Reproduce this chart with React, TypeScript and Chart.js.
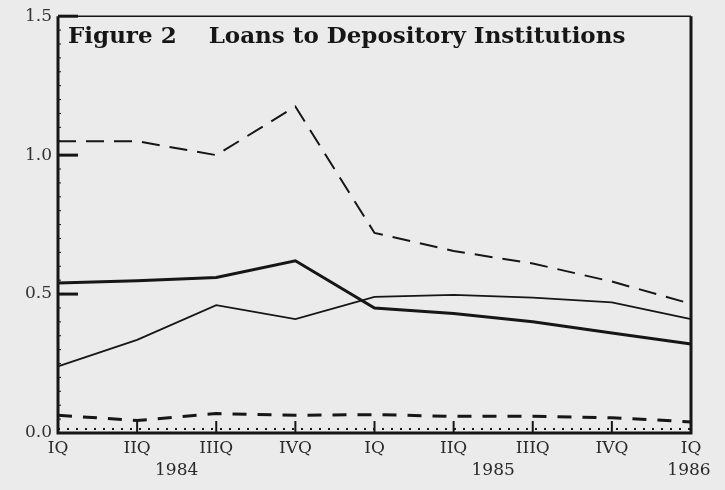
import React, { useEffect, useRef } from "react";
import { Chart, registerables } from "chart.js";

Chart.register(...registerables);

const quarters = ["IQ", "IIQ", "IIIQ", "IVQ", "IQ", "IIQ", "IIIQ", "IVQ", "IQ"];
const yearLabels = ["1984", "1985", "1986"];
const yearAt = [1.5, 5.5, 8];
const titleText = "Figure 2    Loans to Depository Institutions";

const seriesDashed = [1.05, 1.05, 1.0, 1.175, 0.72, 0.655, 0.61, 0.545, 0.465];
const seriesThick = [0.54, 0.548, 0.56, 0.62, 0.45, 0.43, 0.40, 0.36, 0.32];
const seriesThin = [0.24, 0.335, 0.46, 0.41, 0.49, 0.497, 0.487, 0.47, 0.41];
const seriesThickDashed = [0.064, 0.045, 0.07, 0.064, 0.066, 0.06, 0.06, 0.055, 0.04];
const seriesDotted = [0.014, 0.014, 0.014, 0.014, 0.014, 0.014, 0.014, 0.014, 0.014];

const INK = "#161616";
const SERIF = "'DejaVu Serif', 'Liberation Serif', serif";

const framePlugin = {
  id: "frame",
  afterDraw(chart: any) {
    const { ctx, chartArea: a, scales } = chart;
    const y = scales.y;
    const x = scales.x;
    ctx.save();
    ctx.strokeStyle = INK;
    ctx.lineCap = "butt";
    // frame
    ctx.lineWidth = 3;
    ctx.beginPath();
    ctx.moveTo(a.left, a.top);
    ctx.lineTo(a.left, a.bottom);
    ctx.lineTo(a.right, a.bottom);
    ctx.lineTo(a.right, a.top);
    ctx.stroke();
    ctx.lineWidth = 1.5;
    ctx.beginPath();
    ctx.moveTo(a.left, a.top);
    ctx.lineTo(a.right, a.top);
    ctx.stroke();
    // y ticks
    for (let i = 1; i < 30; i++) {
      const v = i * 0.05;
      const py = y.getPixelForValue(v);
      const major = i % 10 === 0;
      ctx.lineWidth = major ? 3 : 1;
      ctx.beginPath();
      ctx.moveTo(a.left, py);
      ctx.lineTo(a.left + (major ? 20 : 3), py);
      ctx.stroke();
    }
    ctx.lineWidth = 3;
    ctx.beginPath();
    ctx.moveTo(a.left, a.top);
    ctx.lineTo(a.left + 20, a.top);
    ctx.stroke();
    // x ticks
    ctx.lineWidth = 2;
    for (let i = 1; i < quarters.length - 1; i++) {
      const px = x.getPixelForValue(i);
      ctx.beginPath();
      ctx.moveTo(px, a.bottom);
      ctx.lineTo(px, a.bottom - 12);
      ctx.stroke();
    }
    // title
    ctx.fillStyle = INK;
    ctx.font = `bold 23px ${SERIF}`;
    ctx.textBaseline = "middle";
    ctx.textAlign = "left";
    ctx.fillText(titleText, a.left + 10, a.top + 21);
    // year labels
    ctx.font = `17px ${SERIF}`;
    ctx.fillStyle = "#2a2a2a";
    ctx.textAlign = "center";
    yearLabels.forEach((lab, i) => {
      const pos = yearAt[i];
      const lo = Math.floor(pos);
      const hi = Math.ceil(pos);
      const p0 = x.getPixelForValue(lo);
      const p1 = x.getPixelForValue(hi);
      let px = p0 + (p1 - p0) * (pos - lo);
      if (i === yearLabels.length - 1) px -= 2;
      ctx.fillText(lab, px, a.bottom + 38);
    });
    ctx.restore();
  },
};

export default function App() {
  const ref = useRef<HTMLCanvasElement | null>(null);
  useEffect(() => {
    if (!ref.current) return;
    const chart = new Chart(ref.current, {
      type: "line",
      data: {
        labels: quarters,
        datasets: [
          { data: seriesDashed, borderColor: INK, borderWidth: 2, borderDash: [18, 10], pointRadius: 0, tension: 0 },
          { data: seriesThick, borderColor: INK, borderWidth: 3, pointRadius: 0, tension: 0 },
          { data: seriesThin, borderColor: INK, borderWidth: 1.8, pointRadius: 0, tension: 0 },
          { data: seriesThickDashed, borderColor: INK, borderWidth: 3, borderDash: [14, 11], pointRadius: 0, tension: 0 },
          { data: seriesDotted, borderColor: INK, borderWidth: 2, borderDash: [2, 7], pointRadius: 0, tension: 0 },
        ],
      },
      options: {
        animation: false,
        responsive: false,
        maintainAspectRatio: false,
        layout: { padding: { top: 13, right: 34, left: 0, bottom: 0 } },
        plugins: { legend: { display: false }, tooltip: { enabled: false }, title: { display: false } },
        scales: {
          x: {
            offset: false,
            grid: { display: false, drawTicks: false },
            border: { display: false },
            ticks: { color: "#2a2a2a", font: { family: SERIF, size: 17 }, padding: 5, maxRotation: 0, autoSkip: false },
            afterFit: (s: any) => { s.height = 57; },
          },
          y: {
            min: 0,
            max: 1.5,
            grid: { display: false, drawTicks: false },
            border: { display: false },
            ticks: { stepSize: 0.5, color: "#333", font: { family: SERIF, size: 17 }, padding: 6, callback: (v: any) => Number(v).toFixed(1) },
            afterFit: (s: any) => { s.width = 58; },
          },
        },
      },
      plugins: [framePlugin],
    });
    return () => chart.destroy();
  }, []);
  return (
    <div style={{ position: "fixed", left: 0, top: 0, width: 725, height: 490, background: "#ebebeb" }}>
      <canvas ref={ref} width={725} height={490} style={{ width: 725, height: 490, display: "block" }} />
    </div>
  );
}
